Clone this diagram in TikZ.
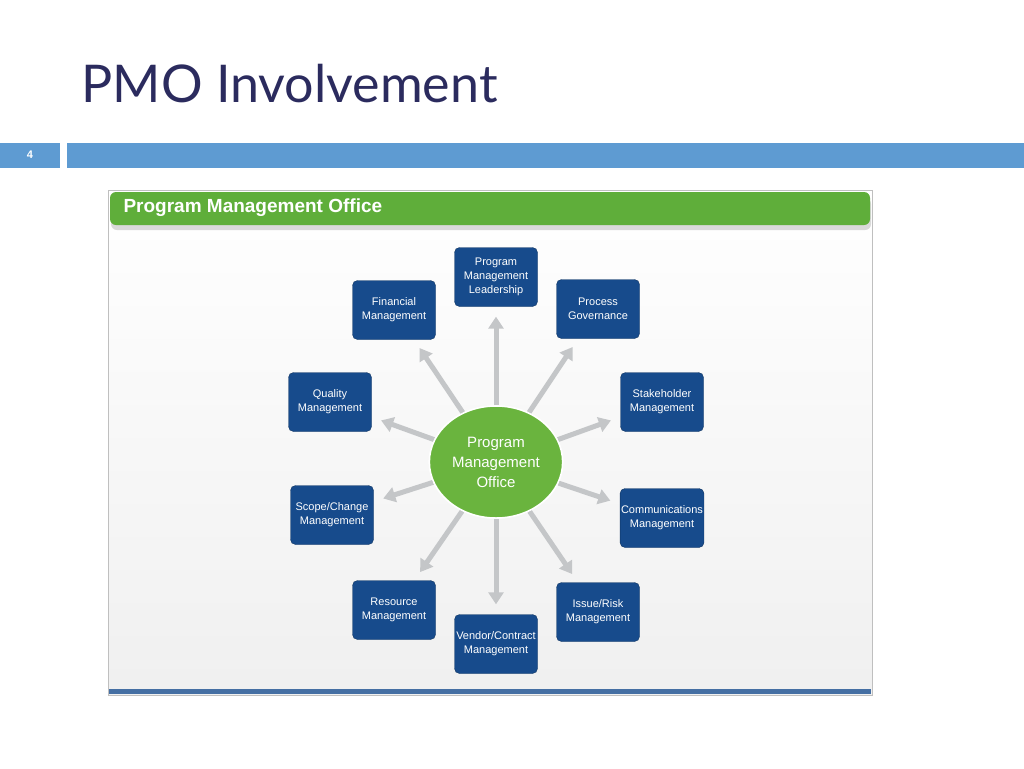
\documentclass[tikz,border=0pt]{standalone}
\usepackage{fontspec}
\setmainfont{Liberation Sans}
\newfontfamily\titlefont{Lato}
\usetikzlibrary{arrows.meta,shapes.geometric}
\definecolor{navy}{HTML}{2B2B5E}
\definecolor{barblue}{HTML}{5E9BD2}
\definecolor{boxblue}{HTML}{174B8C}
\definecolor{pgreen}{HTML}{6AB43E}
\definecolor{hgreen}{HTML}{5FAE3A}
\definecolor{arr}{HTML}{C4C6C8}
\begin{document}
\begin{tikzpicture}[x=1pt,y=-1pt,
  box/.style={draw=boxblue!70!black,fill=boxblue,rounded corners=5pt,minimum width=83pt,minimum height=59pt,text=white,font=\fontsize{11}{14}\selectfont,align=center,inner sep=1pt},
  spoke/.style={draw=arr,line width=5pt,-{Triangle[length=12pt,width=15pt]},shorten >=10pt},
  hub/.style={ellipse,fill=pgreen,draw=white,line width=1.5pt,minimum width=106pt,minimum height=112pt,text=white,align=center,font=\fontsize{15}{20}\selectfont}]
\useasboundingbox (0,0) rectangle (1024,768);
\fill[white] (0,0) rectangle (1024,768);
\node[anchor=west,text=navy,font=\titlefont\fontsize{52}{56}\selectfont] (title) at (78,84) {PMO Involvement};
\fill[barblue] (0,143) rectangle (60,168);
\node[text=white,font=\bfseries\fontsize{11}{12}\selectfont] (pg) at (30,155) {4};
\fill[barblue] (67,143) rectangle (1024,168);
\shade[top color=white,bottom color=black!6,draw=black!25] (108,190) rectangle (872,695);
\fill[boxblue!80] (109,689) rectangle (871,694);
\fill[black!15,rounded corners=6pt] (111,198) rectangle (871,230);
\fill[hgreen,rounded corners=6pt] (110,192) rectangle (870,225);
\node[anchor=west,text=white,font=\bfseries\fontsize{19}{21}\selectfont] (hdr) at (120,208) {Program Management Office};
\node[hub] (c) at (496,462) {Program\\Management\\Office};
\node[box] (b1) at (496,277) {Program\\Management\\Leadership};
\node[box] (b2) at (394,310) {Financial\\Management};
\node[box] (b3) at (598,309) {Process\\Governance};
\node[box] (b4) at (330,402) {Quality\\Management};
\node[box] (b5) at (662,402) {Stakeholder\\Management};
\node[box] (b6) at (332,515) {Scope/Change\\Management};
\node[box] (b7) at (662,518) {Communications\\Management};
\node[box] (b8) at (394,610) {Resource\\Management};
\node[box] (b9) at (598,612) {Issue/Risk\\Management};
\node[box] (b10) at (496,644) {Vendor/Contract\\Management};
\foreach \b in {b1,b2,b3,b4,b5,b6,b7,b8,b9,b10}{\draw[spoke] (c) -- (\b);}
\node[hub] (c2) at (496,462) {Program\\Management\\Office};
\end{tikzpicture}
\end{document}
